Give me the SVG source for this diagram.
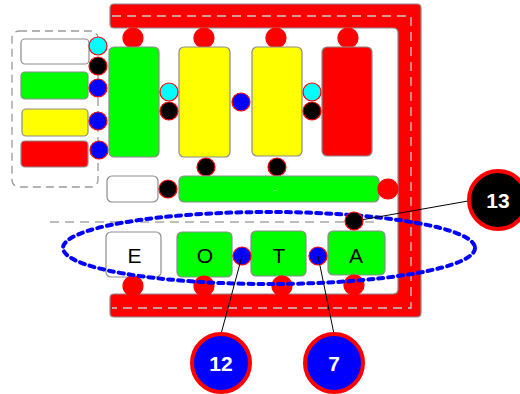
<svg xmlns="http://www.w3.org/2000/svg" width="520" height="394" viewBox="0 0 520 394">
  <style>
    .box { stroke: #8c8c8c; stroke-width: 1.2; }
    .port { stroke: #ff0000; stroke-width: 1.2; }
    .lbl { font-family: "Liberation Sans", Arial, sans-serif; font-size: 21px; fill: #000; text-anchor: middle; }
    .num { font-family: "Liberation Sans", Arial, sans-serif; font-size: 21px; font-weight: bold; fill: #fff; text-anchor: middle; }
    .lead { stroke: #000; stroke-width: 1; fill: none; }
    .red { fill: #ff0000; }
    .green { fill: #00ff00; }
    .yellow { fill: #ffff00; }
    .white { fill: #ffffff; }
    .cyan { fill: #00ffff; }
    .blue { fill: #0000ff; }
    .black { fill: #000000; }
  </style>

  <rect width="520" height="394" fill="#ffffff"/>

  <!-- thick red frame (top, right and bottom rails) -->
  <g id="frame">
    <path d="M114,4 H417 Q421,4 421,8 V313 Q421,317 417,317 H114 Q110,317 110,313 V298 Q110,294 114,294 H393 Q398,294 398,289 V33 Q398,28 393,28 H114 Q110,28 110,24 V8 Q110,4 114,4 Z" fill="#ff0000" stroke="#8c8c8c" stroke-width="1.2"/>
    <path d="M112,16 H411 V308 H112" fill="none" stroke="#c8c8c8" stroke-width="1.3" stroke-dasharray="9,6"/>
  </g>

  <!-- dashed group on the left -->
  <g id="left-group">
    <rect x="12" y="31" width="86" height="156" rx="7" fill="none" stroke="#9a9a9a" stroke-width="1.3" stroke-dasharray="8,5"/>
    <rect class="box white" x="21" y="39" width="68" height="25" rx="4"/>
    <rect class="box green" x="21" y="72" width="67" height="27" rx="4"/>
    <rect class="box yellow" x="22" y="109" width="66" height="27" rx="4"/>
    <rect class="box red" x="21" y="141" width="67" height="26" rx="4"/>
    <circle class="port cyan" cx="98" cy="46" r="9"/>
    <circle class="port black" cx="98" cy="66" r="9"/>
    <circle class="port blue" cx="98" cy="88" r="9"/>
    <circle class="port blue" cx="98" cy="121" r="9"/>
    <circle class="port blue" cx="99" cy="150" r="9"/>
  </g>

  <!-- horizontal dashed separator -->
  <g id="separator">
    <line x1="50" y1="222" x2="380" y2="222" stroke="#a8a8a8" stroke-width="1.3" stroke-dasharray="9,6"/>
  </g>

  <!-- tall blocks -->
  <g id="block-green">
    <circle class="port red" cx="133" cy="38" r="10"/>
    <rect class="box green" x="109" y="47" width="50" height="110" rx="5"/>
  </g>
  <g id="block-yellow-1">
    <circle class="port red" cx="204" cy="38" r="10"/>
    <rect class="box yellow" x="179" y="47" width="51" height="110" rx="5"/>
    <circle class="port black" cx="206" cy="167" r="9"/>
  </g>
  <g id="block-yellow-2">
    <circle class="port red" cx="276" cy="38" r="10"/>
    <rect class="box yellow" x="252" y="47" width="50" height="109" rx="5"/>
    <circle class="port black" cx="277" cy="167" r="9"/>
  </g>
  <g id="block-red">
    <circle class="port red" cx="348" cy="38" r="10"/>
    <rect class="box red" x="322" y="47" width="50" height="109" rx="5"/>
  </g>
  <g id="ports-between">
    <circle class="port cyan" cx="169" cy="92" r="9"/>
    <circle class="port black" cx="169" cy="111" r="9"/>
    <circle class="port blue" cx="241" cy="102" r="9"/>
    <circle class="port cyan" cx="312" cy="92" r="9"/>
    <circle class="port black" cx="312" cy="111" r="9"/>
  </g>

  <!-- wide row -->
  <g id="row-white">
    <rect class="box white" x="107" y="176" width="51" height="26" rx="5"/>
  </g>
  <g id="row-bar">
    <circle class="port black" cx="168" cy="189" r="9"/>
    <rect class="box green" x="179" y="176" width="200" height="26" rx="5"/>
    <text x="275" y="192" font-family="Liberation Sans, Arial, sans-serif" font-size="8" fill="#ffffff" text-anchor="middle">-</text>
    <circle class="port red" cx="388" cy="189" r="10"/>
  </g>

  <!-- letter blocks -->
  <g id="block-E">
    <rect class="box white" x="106" y="232" width="55" height="45" rx="5"/>
    <text class="lbl" x="134.5" y="263">E</text>
    <circle class="port red" cx="133" cy="286" r="10"/>
  </g>
  <g id="block-O">
    <rect class="box green" x="177" y="232" width="55" height="45" rx="5"/>
    <text class="lbl" x="205" y="263">O</text>
    <circle class="port red" cx="204" cy="286" r="10"/>
  </g>
  <g id="block-T">
    <rect class="box green" x="251" y="231" width="55" height="45" rx="5"/>
    <text class="lbl" x="279" y="263">T</text>
    <circle class="port red" cx="282" cy="286" r="10"/>
  </g>
  <g id="block-A">
    <rect class="box green" x="328" y="231" width="57" height="44" rx="5"/>
    <text class="lbl" x="356" y="263">A</text>
    <circle class="port red" cx="354" cy="285" r="10"/>
  </g>
  <g id="ports-letters">
    <circle class="port blue" cx="242" cy="256" r="9"/>
    <circle class="port blue" cx="318" cy="256" r="9"/>
  </g>

  <!-- dotted selection ring -->
  <g id="selection">
    <ellipse cx="269" cy="248" rx="206" ry="36" fill="none" stroke="#0000ff" stroke-width="4" stroke-dasharray="5,5" stroke-linecap="round"/>
  </g>

  <!-- leader lines -->
  <g id="connectors">
    <line class="lead" x1="468" y1="201" x2="355" y2="221"/>
    <line class="lead" x1="242" y1="256" x2="221" y2="334"/>
    <line class="lead" x1="318" y1="256" x2="334" y2="334"/>
  </g>

  <g id="port-13-anchor">
    <circle class="port black" cx="354" cy="221" r="9"/>
  </g>

  <!-- numbered callouts -->
  <g id="callout-13">
    <circle cx="498" cy="200" r="29" fill="#000000" stroke="#ff0000" stroke-width="4"/>
    <text class="num" x="498" y="207.5">13</text>
  </g>
  <g id="callout-12">
    <circle cx="221" cy="363" r="29" fill="#0000ff" stroke="#ff0000" stroke-width="4"/>
    <text class="num" x="221" y="370.5">12</text>
  </g>
  <g id="callout-7">
    <circle cx="334" cy="363" r="29" fill="#0000ff" stroke="#ff0000" stroke-width="4"/>
    <text class="num" x="334" y="370.5">7</text>
  </g>
</svg>
